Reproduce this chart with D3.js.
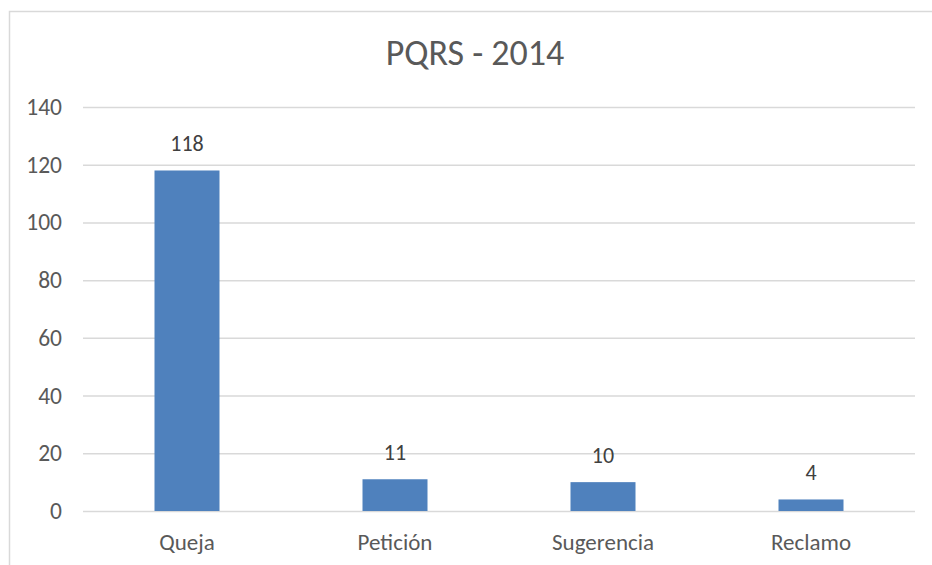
<!DOCTYPE html>
<html lang="es">
<head>
<meta charset="utf-8">
<title>PQRS - 2014</title>
<script src="https://d3js.org/d3.v7.min.js"></script>
<style>
  body { margin: 0; background: #fff; }
  svg { display: block; font-family: Carlito, Lato, "Open Sans", sans-serif; }
</style>
</head>
<body>
<svg id="chart" width="932" height="565"></svg>
<script>
// data
const categories = ["Queja", "Petición", "Sugerencia", "Reclamo"];
const values = [118, 11, 10, 4];
const yTicks = [0, 20, 40, 60, 80, 100, 120, 140];
const title = "PQRS - 2014";

const svg = d3.select("#chart");
const margin = { top: 107, right: 17, bottom: 54, left: 83 };
const width = 932, height = 565;

// chart area border (runs off the right and bottom of the picture)
svg.append("rect")
  .attr("x", 9.5).attr("y", 11.5)
  .attr("width", 940).attr("height", 570)
  .attr("fill", "#fff")
  .attr("stroke", "#d9d9d9")
  .attr("stroke-width", 1.5);

const x = d3.scaleBand()
  .domain(categories)
  .range([margin.left, width - margin.right])
  .paddingInner(0.6875)
  .paddingOuter(0.34375);

const y = d3.scaleLinear()
  .domain([0, 140])
  .range([height - margin.bottom, margin.top]);

// gridlines + y labels
const yAxis = svg.append("g")
  .attr("transform", `translate(${margin.left},0)`)
  .call(d3.axisLeft(y).tickValues(yTicks).tickSize(-(width - margin.left - margin.right)).tickPadding(21));
yAxis.select(".domain").remove();
yAxis.selectAll(".tick line").attr("stroke", "#d9d9d9").attr("stroke-width", 1.5);
yAxis.selectAll(".tick text")
  .attr("fill", "#595959")
  .attr("font-size", 23.5)
  .attr("font-family", "Carlito, Lato, sans-serif");

// bars
svg.append("g")
  .selectAll("rect")
  .data(values)
  .join("rect")
  .attr("x", (d, i) => x(categories[i]))
  .attr("y", d => y(d))
  .attr("width", x.bandwidth())
  .attr("height", d => y(0) - y(d))
  .attr("fill", "#4f81bd");

// value labels
svg.append("g")
  .selectAll("text")
  .data(values)
  .join("text")
  .attr("x", (d, i) => x(categories[i]) + x.bandwidth() / 2)
  .attr("y", d => y(d) - 19)
  .attr("text-anchor", "middle")
  .attr("fill", "#404040")
  .attr("font-size", 22)
  .text(d => d);

// x labels
const xAxis = svg.append("g")
  .attr("transform", `translate(0,${y(0)})`)
  .call(d3.axisBottom(x).tickSize(0).tickPadding(23));
xAxis.select(".domain").remove();
xAxis.selectAll(".tick text")
  .attr("fill", "#595959")
  .attr("font-size", 23)
  .attr("font-family", "Carlito, Lato, sans-serif");

// title
svg.append("text")
  .attr("x", 475)
  .attr("y", 65)
  .attr("text-anchor", "middle")
  .attr("fill", "#595959")
  .attr("font-size", 36)
  .text(title);
</script>
</body>
</html>
